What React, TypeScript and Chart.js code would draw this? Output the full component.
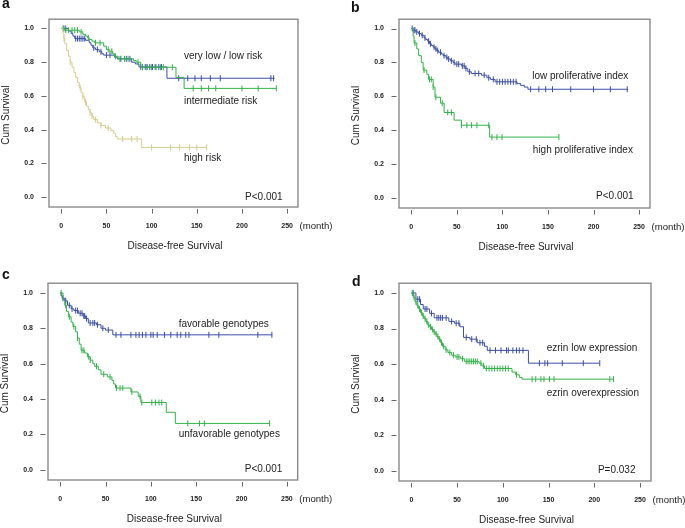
import React, { useEffect, useRef } from 'react';
import { Chart, registerables } from 'chart.js';

Chart.register(...registerables);

// ---------- axis ticks ----------
const X_TICKS = [0, 50, 100, 150, 200, 250];
const Y_TICKS = [0, 0.2, 0.4, 0.6, 0.8, 1.0];

// ---------- Panel a: risk groups ----------
const aLowSteps: [number, number][] = [
  [0, 1.0], [8, 0.985], [11, 0.97], [13, 0.955], [15, 0.94], [27, 0.93], [31, 0.915], [33, 0.9],
  [35, 0.885], [38, 0.875], [42, 0.862], [45, 0.85], [47, 0.842], [59, 0.83], [62, 0.82],
  [78, 0.8], [82, 0.79], [86, 0.772], [117, 0.705], [236, 0.705],
];
const aLowCensor = [3, 5, 16, 18, 20, 22, 24, 26, 36, 40, 44, 50, 54, 66, 72, 76, 88, 90, 93, 95, 98, 101, 104, 108, 111, 130, 140, 148, 155, 165, 176, 232, 235];

const aIntSteps: [number, number][] = [
  [0, 1.0], [4, 0.99], [20, 0.98], [24, 0.965], [27, 0.955], [29, 0.945], [31, 0.935], [34, 0.925],
  [37, 0.915], [47, 0.895], [50, 0.875], [53, 0.865], [57, 0.85], [59, 0.835], [63, 0.82],
  [80, 0.81], [83, 0.8], [88, 0.77], [127, 0.71], [136, 0.645], [238, 0.645],
];
const aIntCensor = [2, 5, 8, 12, 15, 18, 22, 30, 38, 43, 52, 56, 60, 65, 70, 74, 85, 90, 95, 100, 105, 110, 113, 123, 146, 155, 163, 171, 200, 218, 238];

const aHighSteps: [number, number][] = [
  [0, 1.0], [2, 0.97], [3, 0.94], [4, 0.91], [6, 0.87], [8, 0.835], [10, 0.8], [12, 0.77], [14, 0.74],
  [16, 0.71], [18, 0.68], [20, 0.65], [22, 0.62], [24, 0.595], [26, 0.565], [28, 0.54], [30, 0.52],
  [32, 0.5], [34, 0.48], [36, 0.46], [40, 0.44], [44, 0.425], [49, 0.41], [55, 0.395], [58, 0.38],
  [60, 0.36], [62, 0.345], [89, 0.295], [161, 0.295],
];
const aHighCensor = [3, 10, 21, 24, 27, 32, 34, 38, 44, 52, 68, 78, 84, 100, 121, 131, 142, 150, 161];

// ---------- Panel b: proliferative index ----------
const bLowSteps: [number, number][] = [
  [0, 1.0], [2, 0.99], [5, 0.98], [8, 0.97], [11, 0.96], [14, 0.945], [16, 0.935], [18, 0.925],
  [20, 0.91], [22, 0.9], [24, 0.89], [26, 0.88], [28, 0.87], [30, 0.86], [33, 0.85], [35, 0.84],
  [38, 0.83], [40, 0.82], [43, 0.81], [46, 0.8], [48, 0.79], [55, 0.78], [59, 0.765], [62, 0.745],
  [66, 0.735], [77, 0.725], [83, 0.71], [87, 0.7], [92, 0.686], [116, 0.675], [120, 0.665],
  [124, 0.655], [128, 0.642], [238, 0.642],
];
const bLowCensor = [1, 3, 4, 6, 9, 12, 15, 19, 21, 25, 27, 29, 32, 36, 39, 41, 44, 47, 50, 52, 56, 58, 60, 64, 70, 74, 80, 85, 90, 94, 97, 100, 103, 106, 109, 112, 115, 131, 140, 147.5, 155, 175, 200, 218.5, 237];

const bHighSteps: [number, number][] = [
  [0, 1.0], [2, 0.955], [3, 0.915], [6, 0.88], [8, 0.84], [11, 0.8], [13, 0.755], [17, 0.73],
  [19, 0.7], [24, 0.655], [26, 0.595], [32, 0.56], [36, 0.505], [47, 0.46], [55, 0.43], [86, 0.36], [162, 0.36],
];
const bHighCensor = [4, 14, 20, 22, 24, 27, 34, 40, 44, 55, 61, 66, 72, 85, 88.5, 94, 99.6, 162];

// ---------- Panel c: genotypes ----------
const cFavSteps: [number, number][] = [
  [0, 1.0], [1, 0.985], [2, 0.97], [5, 0.955], [8, 0.93], [12, 0.91], [15, 0.9], [20, 0.885],
  [25, 0.87], [28, 0.855], [31, 0.83], [40, 0.82], [45, 0.8], [50, 0.79], [58, 0.763], [234, 0.763],
];
const cFavCensor = [3, 6, 10, 13, 17, 19, 22, 24, 26, 27, 29, 33, 36, 38, 41, 47, 53, 61.5, 67, 78, 83.5, 87, 90.7, 94.5, 100, 102.5, 107, 115, 122, 129, 133, 138.5, 142, 164, 175, 218, 233.5];

const cUnfSteps: [number, number][] = [
  [0, 1.0], [3, 0.96], [5, 0.93], [7, 0.895], [9, 0.865], [12, 0.835], [14, 0.81], [17, 0.78],
  [19, 0.745], [21, 0.71], [23, 0.675], [27, 0.66], [30, 0.64], [33, 0.62], [36, 0.6], [38, 0.585],
  [42, 0.565], [45, 0.54], [52, 0.525], [57, 0.505], [59, 0.485], [61, 0.462], [78, 0.44],
  [86, 0.415], [89, 0.38], [117, 0.325], [127, 0.262], [231, 0.262],
];
const cUnfCensor = [1, 6, 10, 15, 19, 24, 26, 31, 33, 40, 48, 55, 62, 66, 69, 79, 88, 90, 101, 105, 109, 112, 140.7, 153.6, 159, 231];

// ---------- Panel d: ezrin ----------
const dLowSteps: [number, number][] = [
  [0, 1.0], [5, 0.965], [10, 0.935], [13, 0.91], [20, 0.885], [25, 0.86], [41, 0.84], [47, 0.83],
  [53, 0.81], [57, 0.75], [64, 0.74], [72, 0.72], [80, 0.7], [83, 0.677], [128, 0.605], [206, 0.605],
];
const dLowCensor = [2, 7, 9, 15, 17, 22, 28, 30, 32, 34, 38, 44, 49, 52, 60, 66, 71, 75, 78, 86, 92, 98, 104, 106, 111, 115, 118, 122, 140, 146, 149, 165, 188, 206];

const dOverSteps: [number, number][] = [
  [0, 1.0], [2, 0.975], [4, 0.95], [6, 0.93], [8, 0.91], [10, 0.89], [12, 0.87], [14, 0.855],
  [16, 0.84], [18, 0.82], [20, 0.81], [22, 0.795], [24, 0.78], [26, 0.77], [28, 0.755], [30, 0.74],
  [32, 0.72], [34, 0.7], [37, 0.68], [40, 0.665], [44, 0.65], [48, 0.64], [54, 0.63], [58, 0.615],
  [74, 0.605], [77, 0.59], [80, 0.575], [110, 0.555], [114, 0.54], [118, 0.525], [121, 0.515], [221, 0.515],
];
const dOverCensor = [1, 3, 5, 7, 9, 11, 13, 15, 17, 19, 21, 23, 25, 27, 29, 31, 33, 35, 38, 42, 46, 50, 52, 56, 60, 62, 64, 66, 68, 70, 72, 76, 79, 82, 85, 88, 91, 94, 97, 100, 103, 106, 115, 132, 136, 141.6, 145, 151, 156, 217, 221];

// ---------- colours ----------
const BLUE = '#3c4ea5';
const GREEN = '#33b24b';
const TAN = '#d5cc8b';
const FRAME = '#8a8a8a';
const TEXT = '#222222';
const FONT = 'Arial, "Liberation Sans", Helvetica, sans-serif';

type Series = { steps: [number, number][]; censor: number[]; color: string };
type Label = { text: string; x: number; y: number; align?: CanvasTextAlign };
type Panel = {
  letter: string;
  letterPos: [number, number];
  canvas: { left: number; top: number; width: number; height: number };
  area: { left: number; top: number; right: number; bottom: number };
  series: Series[];
  labels: Label[];
};

const PANELS: Panel[] = [
  {
    letter: 'a', letterPos: [2, 8],
    canvas: { left: 0, top: 0, width: 342, height: 262 },
    area: { left: 49, top: 1.5, right: 298, bottom: 207 },
    series: [
      { steps: aHighSteps, censor: aHighCensor, color: TAN },
      { steps: aIntSteps, censor: aIntCensor, color: GREEN },
      { steps: aLowSteps, censor: aLowCensor, color: BLUE },
    ],
    labels: [
      { text: 'very low / low risk', x: 135.8, y: 0.835 },
      { text: 'intermediate risk', x: 135.8, y: 0.571 },
      { text: 'high risk', x: 135.8, y: 0.228 },
      { text: 'P<0.001', x: 245, y: 0.0, align: 'right' },
    ],
  },
  {
    letter: 'b', letterPos: [6, 11.5],
    canvas: { left: 345, top: 0, width: 340, height: 262 },
    area: { left: 399, top: 2, right: 650, bottom: 208 },
    series: [
      { steps: bHighSteps, censor: bHighCensor, color: GREEN },
      { steps: bLowSteps, censor: bLowCensor, color: BLUE },
    ],
    labels: [
      { text: 'low proliferative index', x: 132.7, y: 0.718 },
      { text: 'high proliferative index', x: 133.4, y: 0.282 },
      { text: 'P<0.001', x: 244, y: 0.009, align: 'right' },
    ],
  },
  {
    letter: 'c', letterPos: [2, 15],
    canvas: { left: 0, top: 264, width: 342, height: 264 },
    area: { left: 48, top: 275.3, right: 297.7, bottom: 480 },
    series: [
      { steps: cUnfSteps, censor: cUnfCensor, color: GREEN },
      { steps: cFavSteps, censor: cFavCensor, color: BLUE },
    ],
    labels: [
      { text: 'favorable genotypes', x: 130.7, y: 0.822 },
      { text: 'unfavorable genotypes', x: 130.7, y: 0.203 },
      { text: 'P<0.001', x: 245, y: 0.005, align: 'right' },
    ],
  },
  {
    letter: 'd', letterPos: [7, 21.7],
    canvas: { left: 345, top: 264, width: 340, height: 264 },
    area: { left: 399, top: 275.3, right: 651, bottom: 481 },
    series: [
      { steps: dOverSteps, censor: dOverCensor, color: GREEN },
      { steps: dLowSteps, censor: dLowCensor, color: BLUE },
    ],
    labels: [
      { text: 'ezrin low expression', x: 148, y: 0.687 },
      { text: 'ezrin overexpression', x: 148, y: 0.435 },
      { text: 'P=0.032', x: 245, y: 0.005, align: 'right' },
    ],
  },
];

function survivalAt(steps: [number, number][], t: number): number {
  let s = steps[0][1];
  for (const [tt, ss] of steps) {
    if (tt <= t) s = ss;
    else break;
  }
  return s;
}

function KMPanel({ panel }: { panel: Panel }) {
  const ref = useRef<HTMLCanvasElement | null>(null);

  useEffect(() => {
    const canvas = ref.current;
    if (!canvas) return;
    const { canvas: c, area } = panel;
    const yAxisWidth = area.left - c.left;
    const xAxisHeight = c.top + c.height - area.bottom;
    const padTop = area.top - c.top;
    const padRight = c.left + c.width - area.right;

    const datasets: any[] = [];
    panel.series.forEach((s) => {
      datasets.push({
        type: 'line',
        data: s.steps.map(([x, y]) => ({ x, y })),
        borderColor: s.color,
        borderWidth: 1,
        pointRadius: 0,
        stepped: 'before',
        fill: false,
        tension: 0,
      });
      datasets.push({
        type: 'line',
        data: s.censor.map((t) => ({ x: t, y: survivalAt(s.steps, t) })),
        showLine: false,
        borderColor: s.color,
        backgroundColor: s.color,
        pointStyle: 'line',
        rotation: 90,
        pointRadius: 3,
        pointBorderWidth: 1,
        pointHoverRadius: 3,
      });
    });

    const decor = {
      id: 'decor',
      beforeDatasetsDraw(chart: any) {
        const { ctx, chartArea: a, scales } = chart;
        ctx.save();
        ctx.strokeStyle = FRAME;
        ctx.lineWidth = 1.4;
        ctx.strokeRect(a.left, a.top, a.right - a.left, a.bottom - a.top);
        ctx.strokeStyle = '#666';
        ctx.lineWidth = 1;
        Y_TICKS.forEach((v) => {
          const py = Math.round(scales.y.getPixelForValue(v)) + 0.5;
          ctx.beginPath();
          ctx.moveTo(a.left - 7.5, py);
          ctx.lineTo(a.left - 2.5, py);
          ctx.stroke();
        });
        X_TICKS.forEach((v) => {
          const px = Math.round(scales.x.getPixelForValue(v)) + 0.5;
          ctx.beginPath();
          ctx.moveTo(px, a.bottom + 2);
          ctx.lineTo(px, a.bottom + 6.5);
          ctx.stroke();
        });
        ctx.restore();
      },
      afterDraw(chart: any) {
        const { ctx, chartArea: a, scales } = chart;
        ctx.save();
        ctx.fillStyle = TEXT;
        ctx.font = `10px ${FONT}`;
        ctx.textBaseline = 'middle';
        panel.labels.forEach((l) => {
          ctx.textAlign = l.align || 'left';
          ctx.fillText(l.text, scales.x.getPixelForValue(l.x), scales.y.getPixelForValue(l.y));
        });
        // x title
        ctx.textAlign = 'center';
        ctx.fillText('Disease-free Survival', (a.left + a.right) / 2 + 1.5, a.bottom + 39);
        // unit
        ctx.textAlign = 'left';
        ctx.font = `9.6px ${FONT}`;
        ctx.fillText('(month)', a.right + 1.5, a.bottom + 19.5);
        ctx.font = `10px ${FONT}`;
        // y title
        ctx.save();
        ctx.translate(a.left - 43, (a.top + a.bottom) / 2 + 2);
        ctx.rotate(-Math.PI / 2);
        ctx.textAlign = 'center';
        ctx.fillText('Cum Survival', 0, 0);
        ctx.restore();
        // panel letter
        ctx.font = `bold 14px ${FONT}`;
        ctx.fillStyle = '#111';
        ctx.textAlign = 'left';
        ctx.textBaseline = 'alphabetic';
        ctx.fillText(panel.letter, panel.letterPos[0], panel.letterPos[1]);
        ctx.restore();
      },
    };

    const chart = new Chart(canvas, {
      type: 'line',
      data: { datasets },
      options: {
        responsive: false,
        animation: false,
        events: [],
        layout: { padding: { left: 0, top: padTop, right: padRight, bottom: 0 } },
        plugins: { legend: { display: false }, tooltip: { enabled: false }, title: { display: false } },
        scales: {
          x: {
            type: 'linear',
            min: -13.5,
            max: 262,
            afterBuildTicks: (s: any) => { s.ticks = X_TICKS.map((v) => ({ value: v })); },
            afterFit: (s: any) => { s.height = xAxisHeight; },
            grid: { display: false, drawTicks: false },
            border: { display: false },
            ticks: {
              autoSkip: false,
              maxRotation: 0,
              padding: 15,
              color: TEXT,
              font: { family: FONT, size: 7, weight: 'bold' },
              callback: (v: any) => String(v),
            },
          },
          y: {
            type: 'linear',
            min: -0.058,
            max: 1.055,
            afterBuildTicks: (s: any) => { s.ticks = Y_TICKS.map((v) => ({ value: v })); },
            afterFit: (s: any) => { s.width = yAxisWidth; },
            grid: { display: false, drawTicks: false },
            border: { display: false },
            ticks: {
              autoSkip: false,
              padding: 15,
              color: TEXT,
              font: { family: FONT, size: 7, weight: 'bold' },
              callback: (v: any) => Number(v).toFixed(1),
            },
          },
        },
      } as any,
      plugins: [decor],
    });
    return () => chart.destroy();
  }, [panel]);

  const c = panel.canvas;
  return (
    <canvas
      ref={ref}
      width={c.width}
      height={c.height}
      style={{ position: 'absolute', left: c.left, top: c.top, width: c.width, height: c.height }}
    />
  );
}

export default function App() {
  return (
    <div style={{ position: 'absolute', left: 0, top: 0, width: 685, height: 528, background: '#fff' }}>
      {PANELS.map((p) => (
        <KMPanel key={p.letter} panel={p} />
      ))}
    </div>
  );
}
